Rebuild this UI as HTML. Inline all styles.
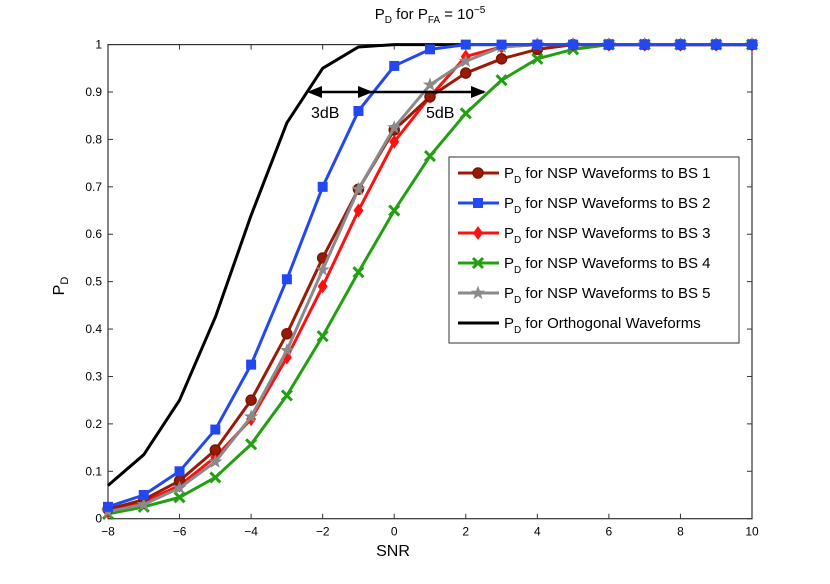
<!DOCTYPE html>
<html><head><meta charset="utf-8"><style>
body{margin:0;background:#fff;}
svg{display:block;font-family:"Liberation Sans",sans-serif;}
</style></head><body>
<svg id="chart" width="830" height="584" viewBox="0 0 830 584">
<rect width="830" height="584" fill="#fff"/>
<g id="axes"></g>
<g id="series"></g>
<g id="annot"></g>
<g id="legend"></g>
</svg>
<script>
const snr=[-8,-7,-6,-5,-4,-3,-2,-1,0,1,2,3,4,5,6,7,8,9,10];
const bs1=[.02,.04,.08,.145,.25,.39,.55,.695,.82,.89,.94,.97,.99,1,1,1,1,1,1];
const bs2=[.025,.05,.10,.188,.325,.505,.70,.86,.955,.99,1,1,1,1,1,1,1,1,1];
const bs3=[.015,.035,.07,.13,.21,.34,.49,.65,.795,.89,.975,.995,1,1,1,1,1,1,1];
const bs4=[.01,.025,.045,.087,.157,.26,.385,.52,.65,.765,.855,.925,.97,.99,1,1,1,1,1];
const bs5=[.015,.03,.065,.12,.215,.355,.525,.695,.825,.915,.965,.995,1,1,1,1,1,1,1];
const orth=[.07,.135,.25,.425,.64,.835,.95,.995,1,1,1,1,1,1,1,1,1,1,1];
const xTicks=[-8,-6,-4,-2,0,2,4,6,8,10];
const yTicks=[0,.1,.2,.3,.4,.5,.6,.7,.8,.9,1];
const yTickLabels=["0","0.1","0.2","0.3","0.4","0.5","0.6","0.7","0.8","0.9","1"];
const X0=108,X1=752,Y0=518.7,Y1=44.6;
const sx=v=>X0+(v+8)/18*(X1-X0);
const sy=v=>Y0+v*(Y1-Y0);
const NS="http://www.w3.org/2000/svg";
function mk(p,t,a){const e=document.createElementNS(NS,t);for(const k in a)e.setAttribute(k,a[k]);p.appendChild(e);return e;}
const ax=document.getElementById('axes');
const box=mk(ax,'rect',{x:X0,y:Y1,width:X1-X0,height:Y0-Y1,fill:'none',stroke:'#333','stroke-width':1.2});


xTicks.forEach(v=>{const x=sx(v);
mk(ax,'line',{x1:x,x2:x,y1:Y0,y2:Y0-5,stroke:'#333'});mk(ax,'line',{x1:x,x2:x,y1:Y1,y2:Y1+5,stroke:'#333'});
const t=mk(ax,'text',{x:x,y:Y0+17,'text-anchor':'middle','font-size':12});t.textContent=(v<0?'\u2212'+(-v):v);

});
yTicks.forEach((v,i)=>{const y=sy(v);
mk(ax,'line',{x1:X0,x2:X0+5,y1:y,y2:y,stroke:'#333'});mk(ax,'line',{x1:X1,x2:X1-5,y1:y,y2:y,stroke:'#333'});
const t=mk(ax,'text',{x:X0-6,y:y+4,'text-anchor':'end','font-size':12});t.textContent=yTickLabels[i];

});
ax.insertAdjacentHTML('beforeend','<text x="393" y="556" text-anchor="middle" font-size="16">SNR</text><text x="58" y="292" text-anchor="middle" font-size="16" transform="rotate(-90 58 286)">P<tspan font-size="11" dy="4">D</tspan></text><text x="430" y="19" text-anchor="middle" font-size="15">P<tspan font-size="10" dy="4">D</tspan><tspan dy="-4"> for P</tspan><tspan font-size="10" dy="4">FA</tspan><tspan dy="-4"> = 10</tspan><tspan font-size="10" dy="-6">−5</tspan></text>');
function marker(g,type,x,y,c){
 if(type==='o')mk(g,'circle',{cx:x,cy:y,r:5,fill:c,stroke:'#7a1500','stroke-width':1.5});
 else if(type==='s')mk(g,'rect',{x:x-5,y:y-5,width:10,height:10,fill:c});
 else if(type==='d')mk(g,'polygon',{points:`${x},${y-7} ${x+5},${y} ${x},${y+7} ${x-5},${y}`,fill:c});
 else if(type==='x'){mk(g,'path',{d:`M${x-5} ${y-5}L${x+5} ${y+5}M${x+5} ${y-5}L${x-5} ${y+5}`,stroke:c,'stroke-width':3});}
 else if(type==='*'){let p=[];for(let k=0;k<10;k++){const r=k%2?3:7.5,a=-Math.PI/2+k*Math.PI/5;p.push((x+r*Math.cos(a)).toFixed(1)+','+(y+r*Math.sin(a)).toFixed(1));}mk(g,'polygon',{points:p.join(' '),fill:c});}
}
const series=[
 {d:orth,c:'#000000',m:null,n:'series-orthogonal',l:'for Orthogonal Waveforms'},
 {d:bs4,c:'#22a012',m:'x',n:'series-bs4',l:'for NSP Waveforms to BS 4'},
 {d:bs3,c:'#ff1010',m:'d',n:'series-bs3',l:'for NSP Waveforms to BS 3'},
 {d:bs1,c:'#9a1a08',m:'o',n:'series-bs1',l:'for NSP Waveforms to BS 1'},
 {d:bs5,c:'#8a8a8a',m:'*',n:'series-bs5',l:'for NSP Waveforms to BS 5'},
 {d:bs2,c:'#2448f0',m:'s',n:'series-bs2',l:'for NSP Waveforms to BS 2'}];
const sg=document.getElementById('series');
series.forEach(s=>{const g=mk(sg,'g',{});


mk(g,'polyline',{points:s.d.map((v,i)=>sx(snr[i])+','+sy(v)).join(' '),fill:'none',stroke:s.c,'stroke-width':3,'stroke-linejoin':'round'});
if(s.m)s.d.forEach((v,i)=>marker(g,s.m,sx(snr[i]),sy(v),s.c));});
document.getElementById('annot').innerHTML='<g stroke="#000" stroke-width="2.5" fill="#000"><line x1="310" y1="92" x2="484" y2="92"/><polygon points="307,92 322,86 322,98" stroke="none"/><polygon points="373,92 358,86 358,98" stroke="none"/><polygon points="486,92 471,86 471,98" stroke="none"/></g><text x="311" y="118" font-size="16">3dB</text><text x="426" y="118" font-size="16">5dB</text>';
const lg=document.getElementById('legend');
const lb=mk(lg,'rect',{x:449,y:157,width:290,height:186,fill:'#fff',stroke:'#333','stroke-width':1});


const order=[3,5,2,1,4,0];
order.forEach((si,r)=>{const s=series[si],y=173+r*30;const g=mk(lg,'g',{});


mk(g,'line',{x1:458,x2:499,y1:y,y2:y,stroke:s.c,'stroke-width':3});
if(s.m)marker(g,s.m,478,y,s.c);
const t=mk(g,'text',{x:504,y:y+5,'font-size':15});
t.innerHTML='P<tspan font-size="10" dy="5">D</tspan><tspan dy="-5"> '+s.l+'</tspan>';});
</script>
</body></html>
